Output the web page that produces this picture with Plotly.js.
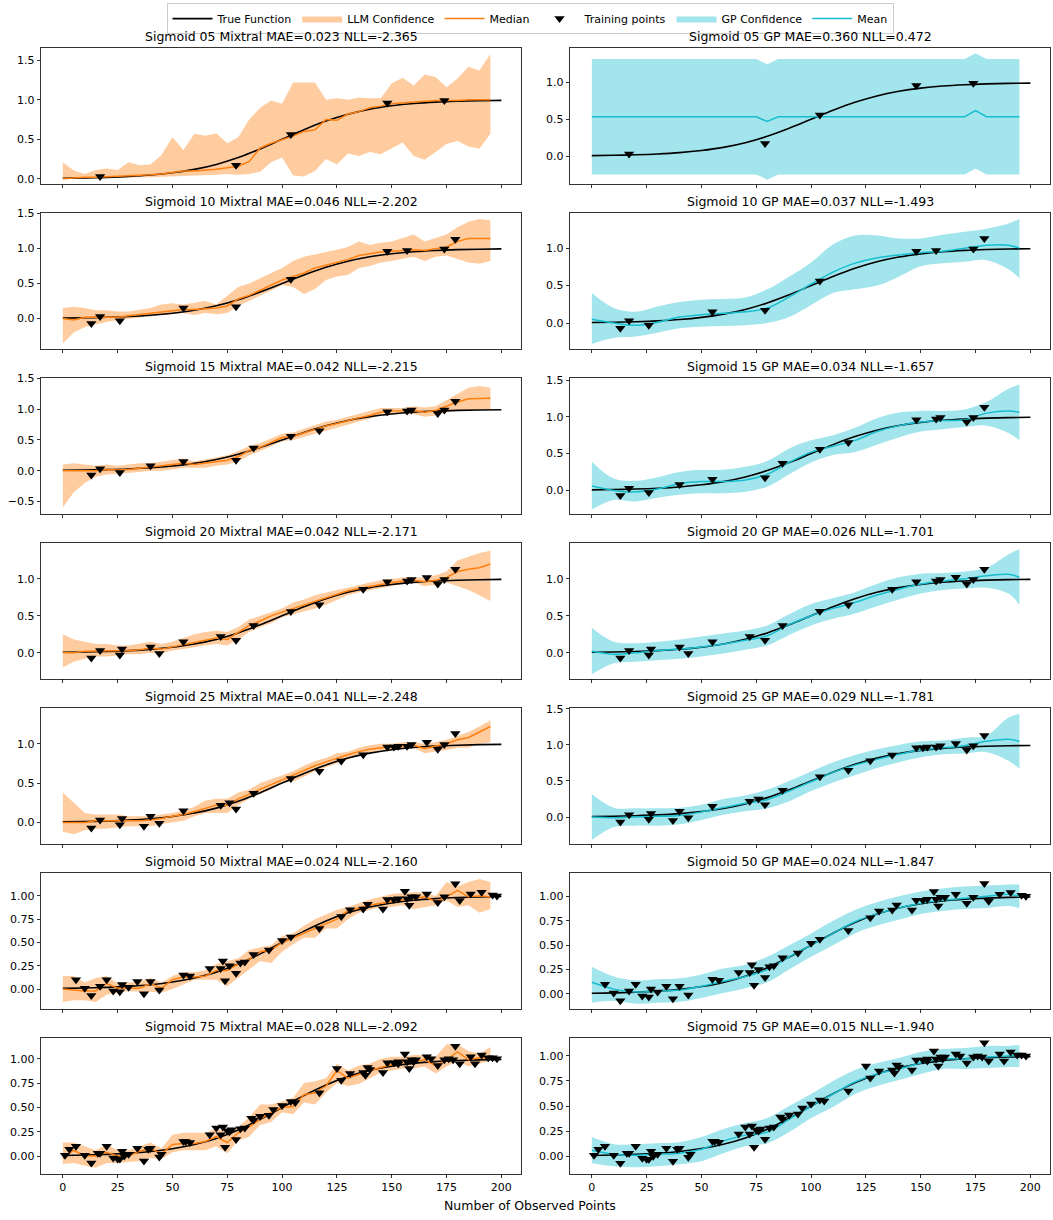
<!DOCTYPE html>
<html><head><meta charset="utf-8">
<script src="https://cdn.plot.ly/plotly-3.0.1.min.js"></script>
<style>html,body{margin:0;padding:0;background:#fff}#chart{width:1053px;height:1220px}</style>
</head><body><div id="chart"></div>
<script>
// ---------- DATA ----------
const sizes = ['05','10','15','20','25','50','75'];
const nTrain = [5,10,15,20,25,50,75];
const llmMAE = ['0.023','0.046','0.042','0.042','0.041','0.024','0.028'];
const llmNLL = ['-2.365','-2.202','-2.215','-2.171','-2.248','-2.160','-2.092'];
const gpMAE  = ['0.360','0.037','0.034','0.026','0.029','0.024','0.015'];
const gpNLL  = ['0.472','-1.493','-1.657','-1.701','-1.781','-1.847','-1.940'];
const xTicks = [0,25,50,75,100,125,150,175,200];

const trueX = [0,10,20,30,40,50,60,70,80,90,100,110,120,130,140,150,160,170,180,190,200];
const trueY = [0.007,0.011,0.018,0.029,0.047,0.076,0.119,0.182,0.269,0.378,0.5,0.622,0.731,0.818,0.881,0.924,0.953,0.971,0.982,0.989,0.993];

// training points, ordered so that the first n are the n-point set
const trainX = [17,79,104,148,174, 13,26,55,157,179, 40,87,117,159,171, 27,44,72,137,166, 37,76,127,151,153,
  6,10,20,23,30,34,58,67,73,74,81,83,94,100,131,139,146,156,158,161,181,186,191,196,198,
  1,3,16,25,28,39,45,56,70,75,77,86,90,96,106,125,138,140,153,160,168,176,178,188,194];
const trainY = [0.03,0.17,0.56,0.96,0.99, -0.07,-0.03,0.15,0.97,1.13, 0.08,0.37,0.65,0.99,0.93, 0.05,-0.01,0.22,0.86,1.02, -0.05,0.25,0.78,0.96,0.97,
  0.10,0.01,0.10,-0.02,0.02,0.08,0.14,0.22,0.30,0.09,0.28,0.29,0.42,0.52,0.85,0.91,0.86,1.05,0.90,0.99,0.95,1.02,1.04,1.01,1.00,
  0.01,0.07,0.03,-0.03,0.00,0.07,0.02,0.15,0.29,0.26,0.27,0.39,0.41,0.48,0.55,0.90,0.83,0.89,0.95,0.97,1.00,1.00,0.99,0.95,1.01];

// LLM grid (x = 0..195 step 5)
const llmX = [0,5,10,15,20,25,30,35,40,45,50,55,60,65,70,75,80,85,90,95,100,105,110,115,120,125,130,135,140,145,150,155,160,165,170,175,180,185,190,195];

const llmMed05 = [0,0.01,0.02,0.02,0.025,0.03,0.035,0.04,0.05,0.06, 0.08,0.1,0.1,0.11,0.12,0.14,0.16,0.22,0.39,0.45, 0.5,0.54,0.6,0.62,0.75,0.74,0.82,0.85,0.9,0.92, 0.95,0.96,0.97,0.98,0.99,0.99,0.99,1,1,1];
const llmLo05 = [-0.01,0,0,0.005,0.01,0.01,0.015,0.02,0.02,0.025, 0.03,0.03,0.04,0.045,0.05,0.06,0.05,0.06,0.09,0.21, 0.27,0.04,0.03,0.1,0.25,0.18,0.32,0.29,0.34,0.31, 0.38,0.46,0.29,0.24,0.34,0.44,0.48,0.41,0.38,0.57];
const llmHi05 = [0.21,0.105,0.06,0.11,0.13,0.11,0.21,0.17,0.18,0.30, 0.525,0.365,0.57,0.545,0.575,0.45,0.525,0.75,0.90,0.99, 0.95,1.22,1.22,1.22,1.0,1.02,1.0,1.03,1.02,1.02, 1.21,1.28,1.18,1.32,1.29,1.16,1.27,1.42,1.37,1.58];

const llmMed10 = [0,-0.02,0.02,0.02,0.01,0.02,0.04,0.06,0.08,0.1, 0.12,0.13,0.13,0.14,0.15,0.18,0.28,0.33,0.4,0.48, 0.55,0.6,0.65,0.72,0.76,0.8,0.84,0.9,0.93,0.95, 0.96,0.97,0.98,0.97,0.99,1.02,1.1,1.14,1.14,1.14];
const llmLo10 = [-0.35,-0.2,-0.12,-0.08,-0.05,-0.02,0,0.02,0.04,0.05, 0.06,0.08,0.05,0.08,0.06,0.08,0.18,0.25,0.32,0.4, 0.48,0.45,0.35,0.42,0.55,0.6,0.62,0.72,0.75,0.8, 0.82,0.85,0.88,0.82,0.88,0.9,0.85,0.8,0.78,0.82];
const llmHi10 = [0.15,0.17,0.15,0.12,0.12,0.1,0.1,0.12,0.15,0.2, 0.22,0.2,0.22,0.25,0.2,0.32,0.45,0.5,0.58,0.65, 0.72,0.82,0.88,0.92,0.95,0.98,1.02,1.1,1.05,1.08, 1.1,1.15,1.2,1.1,1.15,1.2,1.3,1.38,1.42,1.4];

const llmMed15 = [0,0,0,0,0.02,0.01,0.02,0.04,0.06,0.08, 0.1,0.12,0.1,0.12,0.15,0.17,0.23,0.33,0.38,0.46, 0.54,0.56,0.62,0.68,0.73,0.77,0.82,0.86,0.9,0.95, 0.97,0.98,0.98,0.95,0.98,1.05,1.12,1.17,1.18,1.18];
const llmLo15 = [-0.6,-0.35,-0.2,-0.1,-0.06,-0.05,-0.03,-0.02,0,0, 0.02,0.05,0.05,0.05,0.08,0.1,0.15,0.25,0.32,0.4, 0.48,0.5,0.55,0.6,0.65,0.7,0.75,0.8,0.85,0.9, 0.92,0.93,0.92,0.88,0.9,0.95,0.97,0.98,1.0,1.0];
const llmHi15 = [0.1,0.12,0.1,0.08,0.1,0.08,0.1,0.12,0.12,0.15, 0.18,0.2,0.15,0.18,0.22,0.25,0.32,0.4,0.45,0.52, 0.6,0.62,0.68,0.75,0.8,0.83,0.88,0.92,0.97,1.02, 1.02,1.02,1.05,1.03,1.05,1.15,1.25,1.35,1.38,1.35];

const llmMed20 = [0,0,0.02,0.02,0.03,0.03,0.03,0.04,0.06,0.05, 0.08,0.12,0.15,0.18,0.2,0.18,0.27,0.37,0.43,0.5, 0.55,0.6,0.65,0.7,0.75,0.8,0.84,0.87,0.9,0.93, 0.95,0.97,0.98,0.96,0.98,1.02,1.1,1.13,1.15,1.2];
const llmLo20 = [-0.2,-0.12,-0.08,-0.05,-0.05,-0.03,-0.02,-0.02,0,-0.01, 0.03,0.05,0.08,0.1,0.12,0.1,0.18,0.28,0.35,0.4, 0.48,0.52,0.55,0.6,0.65,0.72,0.78,0.82,0.85,0.88, 0.9,0.93,0.95,0.9,0.92,0.95,0.9,0.85,0.78,0.7];
const llmHi20 = [0.25,0.18,0.15,0.12,0.12,0.1,0.1,0.12,0.15,0.12, 0.15,0.2,0.25,0.28,0.3,0.28,0.35,0.45,0.5,0.55, 0.6,0.68,0.72,0.78,0.82,0.85,0.88,0.92,0.95,0.98, 1.0,1.02,1.02,1.02,1.05,1.1,1.25,1.3,1.35,1.38];

const llmMed25 = [0,0,0,0.02,0.02,0.02,0.02,0.02,0.03,0.05, 0.08,0.1,0.14,0.18,0.22,0.22,0.3,0.36,0.42,0.49, 0.55,0.6,0.66,0.72,0.77,0.82,0.86,0.9,0.93,0.95, 0.96,0.97,0.98,0.94,0.97,1.0,1.05,1.08,1.15,1.22];
const llmLo25 = [-0.12,-0.15,-0.1,-0.08,-0.08,-0.06,-0.05,-0.05,-0.05,-0.02, 0,0.02,0.08,0.12,0.12,0.12,0.22,0.3,0.36,0.42, 0.5,0.52,0.58,0.65,0.7,0.75,0.8,0.85,0.88,0.9, 0.92,0.93,0.95,0.88,0.9,0.92,0.95,0.95,1.0,1.02];
const llmHi25 = [0.38,0.25,0.12,0.1,0.1,0.1,0.08,0.08,0.08,0.1, 0.12,0.15,0.2,0.28,0.3,0.3,0.38,0.42,0.5,0.55, 0.6,0.65,0.72,0.78,0.82,0.88,0.9,0.95,0.98,1.0, 1.0,1.02,1.02,1.0,1.02,1.05,1.1,1.15,1.22,1.3];

const llmMed50 = [0,-0.01,-0.02,-0.02,0.06,0.01,0.01,0.01,0.06,0.01, 0.1,0.13,0.13,0.14,0.2,0.2,0.27,0.32,0.4,0.42, 0.5,0.55,0.6,0.65,0.7,0.75,0.84,0.87,0.9,0.92, 0.94,0.96,0.97,0.99,0.94,0.99,1.06,0.99,1.0,0.99];
const llmLo50 = [-0.14,-0.12,-0.12,-0.14,-0.06,-0.04,-0.02,-0.03,-0.03,-0.04, 0,0.05,0.1,0.1,0.1,0.03,0.12,0.2,0.3,0.28, 0.4,0.48,0.55,0.55,0.65,0.65,0.75,0.82,0.85,0.88, 0.88,0.9,0.86,0.88,0.9,0.95,0.88,0.9,0.82,0.86];
const llmHi50 = [0.14,0.14,0.07,0.12,0.14,0.06,0.07,0.08,0.12,0.07, 0.14,0.18,0.18,0.2,0.27,0.3,0.33,0.42,0.45,0.47, 0.57,0.6,0.68,0.75,0.8,0.85,0.88,0.92,0.96,0.99, 1.02,1.03,1.04,1.04,1.0,1.15,1.1,1.15,1.18,1.15];

const llmMed75 = [-0.02,0.06,0,0,0.04,0,0,0.05,0.08,0.02, 0.12,0.13,0.13,0.15,0.2,0.14,0.24,0.3,0.38,0.45, 0.5,0.51,0.63,0.65,0.72,0.88,0.8,0.84,0.88,0.91, 0.94,0.97,0.97,0.99,0.93,0.99,1.07,0.99,1.01,1.01];
const llmLo75 = [-0.08,-0.07,-0.1,-0.12,-0.07,-0.07,-0.06,-0.05,-0.02,-0.03, 0.04,0.06,0.06,0.06,0.1,0.03,0.16,0.2,0.32,0.35, 0.45,0.43,0.55,0.53,0.65,0.75,0.72,0.74,0.8,0.86, 0.88,0.9,0.9,0.92,0.85,0.92,0.98,0.92,0.95,0.98];
const llmHi75 = [0.14,0.14,0.1,0.06,0.12,0.06,0.06,0.1,0.14,0.08, 0.22,0.24,0.24,0.24,0.28,0.25,0.3,0.4,0.53,0.53, 0.56,0.6,0.75,0.77,0.8,0.95,0.88,0.93,0.95,1.0, 1.02,1.02,1.04,1.04,1.02,1.15,1.15,1.08,1.05,1.12];

// GP, 5 points (flat with small kinks)
const gpX05 = [0,75,80,85,170,175,180,195];
const gpMean05 = [0.535,0.535,0.47,0.535,0.535,0.62,0.535,0.535];
const gpLo05 = [-0.25,-0.25,-0.32,-0.25,-0.25,-0.17,-0.25,-0.25];
const gpHi05 = [1.32,1.32,1.25,1.32,1.32,1.40,1.32,1.32];

// GP grid for other sizes
const gpX = [0,10,20,30,40,50,60,70,80,90,100,110,120,130,140,150,160,170,180,190,195];
const gpMean10 = [0.05,0,-0.03,0.01,0.08,0.11,0.13,0.15,0.2,0.35,0.52,0.68,0.8,0.87,0.91,0.94,0.96,1.0,1.04,1.04,1.0];
const gpLo10 = [-0.28,-0.2,-0.18,-0.13,-0.07,-0.05,-0.04,-0.03,0,0.08,0.24,0.4,0.45,0.5,0.62,0.76,0.8,0.82,0.84,0.72,0.6];
const gpHi10 = [0.4,0.2,0.15,0.22,0.28,0.31,0.32,0.34,0.45,0.62,0.81,1.05,1.17,1.17,1.13,1.13,1.18,1.22,1.26,1.33,1.39];

const gpMean15 = [0.06,0,-0.02,0.02,0.09,0.12,0.12,0.14,0.22,0.38,0.52,0.6,0.68,0.8,0.88,0.93,0.95,0.96,1.05,1.08,1.06];
const gpLo15 = [-0.26,-0.13,-0.15,-0.1,-0.06,-0.04,-0.04,-0.02,0.05,0.22,0.38,0.48,0.52,0.62,0.72,0.8,0.83,0.86,0.88,0.78,0.68];
const gpHi15 = [0.39,0.16,0.13,0.18,0.25,0.28,0.28,0.32,0.4,0.57,0.68,0.75,0.85,0.98,1.06,1.08,1.08,1.1,1.2,1.38,1.44];

const gpMean20 = [0.02,-0.02,0,0.03,0.05,0.08,0.12,0.17,0.23,0.38,0.5,0.6,0.68,0.78,0.86,0.93,0.97,1.0,1.04,1.06,1.02];
const gpLo20 = [-0.29,-0.14,-0.12,-0.1,-0.08,-0.05,-0.01,0.04,0.1,0.24,0.37,0.46,0.53,0.63,0.72,0.8,0.85,0.87,0.88,0.8,0.65];
const gpHi20 = [0.34,0.15,0.13,0.15,0.18,0.22,0.26,0.3,0.37,0.52,0.66,0.74,0.82,0.93,1.02,1.07,1.08,1.1,1.15,1.33,1.4];

const gpMean25 = [0,-0.01,0,0.01,0.02,0.07,0.13,0.19,0.24,0.36,0.49,0.62,0.72,0.8,0.87,0.93,0.96,0.99,1.05,1.08,1.05];
const gpLo25 = [-0.32,-0.14,-0.12,-0.12,-0.1,-0.04,0.03,0.08,0.12,0.22,0.36,0.48,0.58,0.68,0.76,0.83,0.87,0.88,0.9,0.78,0.67];
const gpHi25 = [0.32,0.13,0.12,0.12,0.13,0.17,0.25,0.3,0.38,0.5,0.63,0.76,0.86,0.94,1.0,1.05,1.06,1.1,1.13,1.38,1.43];

const gpMean50 = [0.12,0.05,0.02,0.03,0.04,0.08,0.13,0.18,0.25,0.38,0.5,0.62,0.74,0.82,0.88,0.93,0.96,0.98,1.0,1.02,1.0];
const gpLo50 = [-0.09,-0.07,-0.1,-0.09,-0.08,-0.04,0.01,0.06,0.12,0.25,0.38,0.5,0.62,0.7,0.76,0.82,0.85,0.87,0.88,0.9,0.88];
const gpHi50 = [0.28,0.18,0.14,0.15,0.16,0.2,0.26,0.3,0.38,0.5,0.62,0.75,0.86,0.94,1.0,1.05,1.08,1.1,1.11,1.12,1.12];

const gpMean75 = [0.06,0.02,0.01,0.02,0.03,0.07,0.15,0.21,0.24,0.37,0.5,0.62,0.74,0.82,0.87,0.93,0.97,0.97,0.99,1.0,1.0];
const gpLo75 = [-0.07,-0.1,-0.11,-0.1,-0.08,-0.05,0.03,0.1,0.13,0.24,0.38,0.49,0.62,0.7,0.76,0.82,0.87,0.87,0.88,0.89,0.89];
const gpHi75 = [0.19,0.12,0.12,0.13,0.14,0.19,0.27,0.33,0.38,0.5,0.62,0.75,0.86,0.93,0.98,1.04,1.07,1.08,1.1,1.1,1.11];

// ---------- STYLE / LAYOUT ----------
const llmPanels = [
  [llmMed05,llmLo05,llmHi05],[llmMed10,llmLo10,llmHi10],[llmMed15,llmLo15,llmHi15],
  [llmMed20,llmLo20,llmHi20],[llmMed25,llmLo25,llmHi25],[llmMed50,llmLo50,llmHi50],[llmMed75,llmLo75,llmHi75]];
const gpPanels = [
  [gpMean05,gpLo05,gpHi05],[gpMean10,gpLo10,gpHi10],[gpMean15,gpLo15,gpHi15],
  [gpMean20,gpLo20,gpHi20],[gpMean25,gpLo25,gpHi25],[gpMean50,gpLo50,gpHi50],[gpMean75,gpLo75,gpHi75]];
const yRangeL = [[-0.063,1.656],[-0.43,1.505],[-0.70,1.51],[-0.35,1.486],[-0.27,1.456],[-0.21,1.247],[-0.18,1.215]];
const yRangeR = [[-0.376,1.47],[-0.343,1.47],[-0.317,1.528],[-0.35,1.485],[-0.37,1.514],[-0.15,1.24],[-0.174,1.18]];

const W = 1053, H = 1220, mL = 41, mR = 3, mT = 46, mB = 46;
const plotW = W - mL - mR, plotH = H - mT - mB;
const panelH = 136, pitch = 165.27;
const FONT = 'DejaVu Sans, Liberation Sans, sans-serif';
const ORANGE = '#ff7f0e', CYAN = '#17becf';
const ORANGE_FILL = 'rgba(255,127,14,0.4)', CYAN_FILL = 'rgba(23,190,207,0.4)';

const traces = [];
const layout = {
  width: W, height: H,
  margin: {l: mL, r: mR, t: mT, b: mB},
  paper_bgcolor: '#fff', plot_bgcolor: '#fff',
  font: {family: FONT, size: 11, color: '#000'},
  showlegend: true,
  legend: {orientation: 'h', traceorder: 'normal', x: (530 - mL)/plotW, xanchor: 'center', y: 1 + 45/plotH, yanchor: 'top',
           bordercolor: '#cccccc', borderwidth: 1, bgcolor: '#fff', font: {size: 11, family: FONT},
           itemwidth: 40, tracegroupgap: 0},
  annotations: []
};

function axName(p){ return p === 0 ? '' : String(p+1); }

for (let r = 0; r < 7; r++) {
  const top = r * pitch, bot = top + panelH;
  const yDom = [1 - bot/plotH, 1 - top/plotH];
  for (let c = 0; c < 2; c++) {
    const p = r*2 + c;
    const xa = 'x' + axName(p), ya = 'y' + axName(p);
    const xDom = c === 0 ? [0, 480/plotW] : [(570-mL)/plotW, 1];
    const small = r >= 5;
    layout['xaxis' + axName(p)] = {
      domain: xDom, anchor: ya, range: [-9.95, 208.95],
      tickvals: xTicks, ticks: 'outside', ticklen: 3.5, tickwidth: 0.8, tickcolor: '#000',
      showticklabels: r === 6, showgrid: false, zeroline: false,
      showline: true, mirror: true, linecolor: '#000', linewidth: 0.8,
      tickfont: {size: 11, family: FONT, color: '#000'}
    };
    layout['yaxis' + axName(p)] = {
      domain: yDom, anchor: xa, range: c === 0 ? yRangeL[r] : yRangeR[r],
      dtick: small ? 0.25 : 0.5, tick0: 0, tickformat: small ? '.2f' : '.1f',
      ticks: 'outside', ticklen: 3.5, tickwidth: 0.8, tickcolor: '#000',
      showgrid: false, zeroline: false, showline: true, mirror: true, linecolor: '#000', linewidth: 0.8,
      tickfont: {size: 11, family: FONT, color: '#000'}
    };
    const first = (r === 0);
    let bx, med, lo, hi, fill, lineCol, shape, confName, midName;
    if (c === 0) {
      bx = llmX; [med, lo, hi] = llmPanels[r]; fill = ORANGE_FILL; lineCol = ORANGE; shape = 'linear';
      confName = 'LLM Confidence'; midName = 'Median';
    } else {
      bx = r === 0 ? gpX05 : gpX; [med, lo, hi] = gpPanels[r]; fill = CYAN_FILL; lineCol = CYAN;
      shape = r === 0 ? 'linear' : 'spline'; confName = 'GP Confidence'; midName = 'Mean';
    }
    traces.push({x: bx, y: lo, xaxis: xa, yaxis: ya, type: 'scatter', mode: 'lines',
      line: {width: 0, color: fill, shape: shape}, showlegend: false, hoverinfo: 'skip'});
    traces.push({x: bx, y: hi, xaxis: xa, yaxis: ya, type: 'scatter', mode: 'lines', fill: 'tonexty',
      fillcolor: fill, line: {width: 0, color: fill, shape: shape}, name: confName,
      showlegend: first, legendrank: c === 0 ? 2 : 5});
    traces.push({x: trueX, y: trueY, xaxis: xa, yaxis: ya, type: 'scatter', mode: 'lines',
      line: {color: '#000', width: 1.6, shape: 'spline'}, name: 'True Function',
      showlegend: first && c === 0, legendrank: 1});
    traces.push({x: bx, y: med, xaxis: xa, yaxis: ya, type: 'scatter', mode: 'lines',
      line: {color: lineCol, width: 1.5, shape: shape}, name: midName,
      showlegend: first, legendrank: c === 0 ? 3 : 6});
    traces.push({x: trainX.slice(0, nTrain[r]), y: trainY.slice(0, nTrain[r]), xaxis: xa, yaxis: ya,
      type: 'scatter', mode: 'markers', marker: {symbol: 'triangle-down', size: 9, color: '#000'},
      name: 'Training points', showlegend: first && c === 0, legendrank: 4});

    const title = c === 0
      ? `Sigmoid ${sizes[r]} Mixtral MAE=${llmMAE[r]} NLL=${llmNLL[r]}`
      : `Sigmoid ${sizes[r]} GP MAE=${gpMAE[r]} NLL=${gpNLL[r]}`;
    layout.annotations.push({text: title, xref: 'paper', yref: 'paper',
      x: (xDom[0] + xDom[1]) / 2, y: yDom[1], xanchor: 'center', yanchor: 'bottom', yshift: 2,
      showarrow: false, font: {size: 12.5, family: FONT, color: '#000'}});
  }
}
layout.annotations.push({text: 'Number of Observed Points', xref: 'paper', yref: 'paper',
  x: (530 - mL) / plotW, y: 0, xanchor: 'center', yanchor: 'top', yshift: -22,
  showarrow: false, font: {size: 12.5, family: FONT, color: '#000'}});

Plotly.newPlot('chart', traces, layout, {displayModeBar: false, staticPlot: true});
</script></body></html>
